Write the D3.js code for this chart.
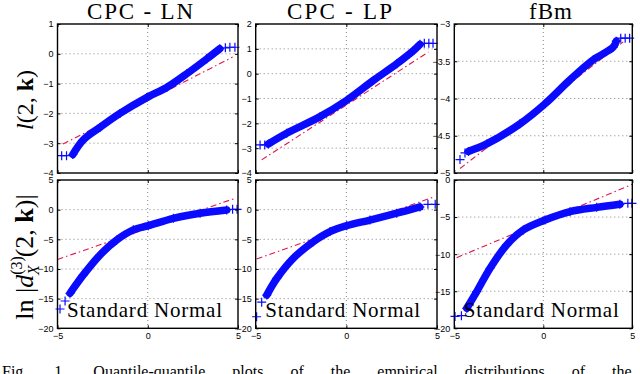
<!DOCTYPE html>
<html lang="en">
<head>
<meta charset="UTF-8">
<title>Q-Q plots</title>
<script src="https://d3js.org/d3.v7.min.js"></script>
<style>
  body { margin: 0; background: #fff; }
  .tick text { font-family: "Liberation Sans", Arial, sans-serif; font-size: 9px; fill: #000; }
</style>
</head>
<body>
<script>
// titles and ticks
var titles = ["CPC - LN", "CPC - LP", "fBm"];
var xTicks = [-5, 0, 5];
var topDomains = [[-4, 1], [-4, 2], [-5, -3]];
var topTicks = [[-4, -3, -2, -1, 0, 1], [-4, -3, -2, -1, 0, 1, 2], [-5, -4.5, -4, -3.5, -3]];
var botDomains = [[-20, 5], [-20, 5], [-20, 0]];
var botTicks = [[-20, -15, -10, -5, 0, 5], [-20, -15, -10, -5, 0, 5], [-20, -15, -10, -5, 0]];

// quantile pairs [standard normal, sample]
var lnTopBand = [[-4.15, -3.38], [-3.57, -2.89], [-2.65, -2.47], [-1.54, -2.0], [-0.06, -1.47], [1.05, -1.13], [2.16, -0.67], [3.27, -0.17], [3.99, 0.17]];
var lnTopTail = [[-4.77, -3.42], [-4.5, -3.42], [4.3, 0.2], [4.55, 0.22], [4.83, 0.22]];
var lnTopRef = [[-4.7, -3.03], [4.7, -0.11]];

var lpTopBand = [[-4.3, -2.83], [-3.29, -2.4], [-1.45, -1.73], [0.02, -1.07], [1.49, -0.27], [2.78, 0.4], [3.7, 0.93], [4.06, 1.18]];
var lpTopTail = [[-4.76, -2.87], [-4.5, -2.87], [4.3, 1.22], [4.55, 1.22], [4.78, 1.22]];
var lpTopRef = [[-4.67, -3.47], [4.52, 0.87]];

var fbTopBand = [[-4.2, -4.71], [-3.18, -4.61], [-1.31, -4.34], [0.1, -4.07], [1.5, -3.75], [2.81, -3.48], [3.93, -3.31], [4.1, -3.23]];
var fbTopTail = [[-4.68, -4.82], [-4.4, -4.73], [4.35, -3.19], [4.6, -3.19], [4.85, -3.19]];
var fbTopRef = [[-4.68, -4.94], [4.49, -3.24]];

var lnBotBand = [[-4.31, -14.1], [-3.57, -11.0], [-2.65, -7.65], [-1.72, -5.1], [-0.8, -3.4], [0.03, -2.7], [1.42, -1.46], [2.9, -0.6], [4.37, -0.06]];
var lnBotTail = [[-4.86, -16.75], [-4.58, -15.4], [4.7, 0.05], [4.95, 0.05]];
var lnBotRef = [[-5, -8.4], [4.83, 1.9]];

var lpBotBand = [[-4.39, -14.4], [-3.84, -11.6], [-2.93, -8.2], [-1.82, -5.4], [-0.9, -3.7], [0.02, -2.7], [1.3, -1.75], [2.78, -0.6], [4.06, 0.45]];
var lpBotTail = [[-4.95, -18.05], [-4.67, -15.6], [4.5, 0.9], [4.9, 0.9]];
var lpBotRef = [[-4.95, -8.3], [4.8, 2.1]];

var fbBotBand = [[-4.3, -17.3], [-3.74, -15.05], [-2.99, -11.9], [-2.06, -8.76], [-1.12, -6.74], [0.1, -5.4], [1.5, -4.27], [3.0, -3.69], [4.3, -3.28]];
var fbBotTail = [[-4.96, -18.4], [-4.6, -18.3], [4.75, -3.15], [4.98, -3.15]];
var fbBotRef = [[-4.87, -10.47], [5.0, -0.58]];

var W = 640, H = 374;
var cols = [[57.5, 238], [255.7, 437], [454.3, 632.3]];
var rows = [[24, 173], [180, 328.3]];
var blue = "#0a0aff", red = "#e0154a";
var serifFont = "'Liberation Serif', 'DejaVu Serif', serif";

// matlab-like labels: no trailing zeros, real minus sign
var fmt = function(v) { return String(v).replace("-", "\u2212"); };

var svg = d3.select("body").append("svg")
  .attr("width", W).attr("height", H);

function serifText(sel) {
  return sel.append("text").style("font-family", serifFont).style("fill", "#000");
}

var panels = [
  {row: 0, col: 0, band: lnTopBand, tail: lnTopTail, ref: lnTopRef},
  {row: 0, col: 1, band: lpTopBand, tail: lpTopTail, ref: lpTopRef},
  {row: 0, col: 2, band: fbTopBand, tail: fbTopTail, ref: fbTopRef},
  {row: 1, col: 0, band: lnBotBand, tail: lnBotTail, ref: lnBotRef},
  {row: 1, col: 1, band: lpBotBand, tail: lpBotTail, ref: lpBotRef},
  {row: 1, col: 2, band: fbBotBand, tail: fbBotTail, ref: fbBotRef}
];

panels.forEach(function(p) {
  var c = cols[p.col], r = rows[p.row];
  var dom = p.row === 0 ? topDomains[p.col] : botDomains[p.col];
  var yt = p.row === 0 ? topTicks[p.col] : botTicks[p.col];
  var x = d3.scaleLinear().domain([-5, 5]).range(c);
  var y = d3.scaleLinear().domain(dom).range([r[1], r[0]]);
  var g = svg.append("g");

  // dotted grid
  g.selectAll(".gy").data(yt.filter(function(v) { return v !== dom[0] && v !== dom[1]; }))
    .enter().append("line")
    .attr("x1", c[0]).attr("x2", c[1])
    .attr("y1", function(d) { return y(d); }).attr("y2", function(d) { return y(d); })
    .attr("stroke", "#666").attr("stroke-width", 0.8).attr("stroke-dasharray", "1,3");
  g.selectAll(".gx").data([0]).enter().append("line")
    .attr("x1", function(d) { return x(d); }).attr("x2", function(d) { return x(d); })
    .attr("y1", r[0]).attr("y2", r[1])
    .attr("stroke", "#666").attr("stroke-width", 0.8).attr("stroke-dasharray", "1,3");

  // reference line
  g.append("path")
    .attr("d", d3.line().x(function(d) { return x(d[0]); }).y(function(d) { return y(d[1]); })(p.ref))
    .attr("fill", "none").attr("stroke", red).attr("stroke-width", 1.1)
    .attr("stroke-dasharray", "6,3,1.5,3");

  // dense quantile markers as a thick band
  g.append("path")
    .attr("d", d3.line().curve(d3.curveCatmullRom)
      .x(function(d) { return x(d[0]); }).y(function(d) { return y(d[1]); })(p.band))
    .attr("fill", "none").attr("stroke", blue).attr("stroke-width", 7.5)
    .attr("stroke-linecap", "round").attr("stroke-linejoin", "round");

  g.selectAll(".mk").data(p.tail.concat(p.band)).enter().append("path")
    .attr("d", "M-4.5,0H4.5M0,-4.5V4.5")
    .attr("transform", function(d) { return "translate(" + x(d[0]) + "," + y(d[1]) + ")"; })
    .attr("stroke", blue).attr("stroke-width", 1.2).attr("fill", "none");

  // axes, ticks inside
  g.append("g").attr("transform", "translate(" + c[0] + ",0)")
    .call(d3.axisLeft(y).tickValues(yt).tickFormat(fmt).tickSizeInner(-3).tickSizeOuter(0).tickPadding(4));
  g.append("g").attr("transform", "translate(" + c[1] + ",0)")
    .call(d3.axisRight(y).tickValues(yt).tickSizeInner(-3).tickSizeOuter(0).tickFormat(""));
  var bot = g.append("g").attr("transform", "translate(0," + r[1] + ")")
    .call(d3.axisBottom(x).tickValues(xTicks).tickFormat(fmt).tickSizeInner(-3).tickSizeOuter(0).tickPadding(4));
  g.append("g").attr("transform", "translate(0," + r[0] + ")")
    .call(d3.axisTop(x).tickValues(xTicks).tickSizeInner(-3).tickSizeOuter(0).tickFormat(""));
  if (p.row === 0) bot.selectAll("text").remove();
  g.selectAll(".domain").remove();
  g.selectAll(".tick line").attr("stroke", "#000");

  g.append("rect")
    .attr("x", c[0]).attr("y", r[0])
    .attr("width", c[1] - c[0]).attr("height", r[1] - r[0])
    .attr("fill", "none").attr("stroke", "#000").attr("stroke-width", 1.4);

  if (p.row === 1) {
    serifText(g)
      .attr("x", c[0] + 9.5).attr("y", 316.5)
      .style("font-size", "21px")
      .attr("textLength", 155).attr("lengthAdjust", "spacing")
      .text("Standard Normal");
  }
});

// titles
var titleX = [87, 287, 529], titleW = [106, 105, 43];
titles.forEach(function(t, i) {
  serifText(svg)
    .attr("x", titleX[i]).attr("y", 18.5)
    .style("font-size", "23px")
    .attr("textLength", titleW[i]).attr("lengthAdjust", "spacing")
    .text(t);
});

// y labels
var yl1 = serifText(svg)
  .attr("transform", "translate(33,100) rotate(-90)")
  .attr("text-anchor", "middle").style("font-size", "24px");
yl1.append("tspan").attr("font-style", "italic").text("l");
yl1.append("tspan").text("(2, ");
yl1.append("tspan").attr("font-weight", "bold").text("k");
yl1.append("tspan").text(")");

var yl2 = serifText(svg)
  .attr("transform", "translate(33,257) rotate(-90)")
  .attr("text-anchor", "middle").style("font-size", "26px");
yl2.append("tspan").text("ln |");
yl2.append("tspan").attr("font-style", "italic").text("d");
yl2.append("tspan").style("font-size", "16px").attr("dy", -11).text("(3)");
yl2.append("tspan").style("font-size", "16px").attr("font-style", "italic").attr("dx", -19).attr("dy", 17).text("X");
yl2.append("tspan").attr("dy", -6).attr("dx", 8).text("(2, ");
yl2.append("tspan").attr("font-weight", "bold").text("k");
yl2.append("tspan").text(")|");

// caption, cut off by the page edge
serifText(svg)
  .attr("x", 2).attr("y", 377).style("font-size", "16px")
  .style("word-spacing", "23px")
  .text("Fig. 1.   Quantile-quantile plots of the empirical distributions of the");
</script>
</body>
</html>
